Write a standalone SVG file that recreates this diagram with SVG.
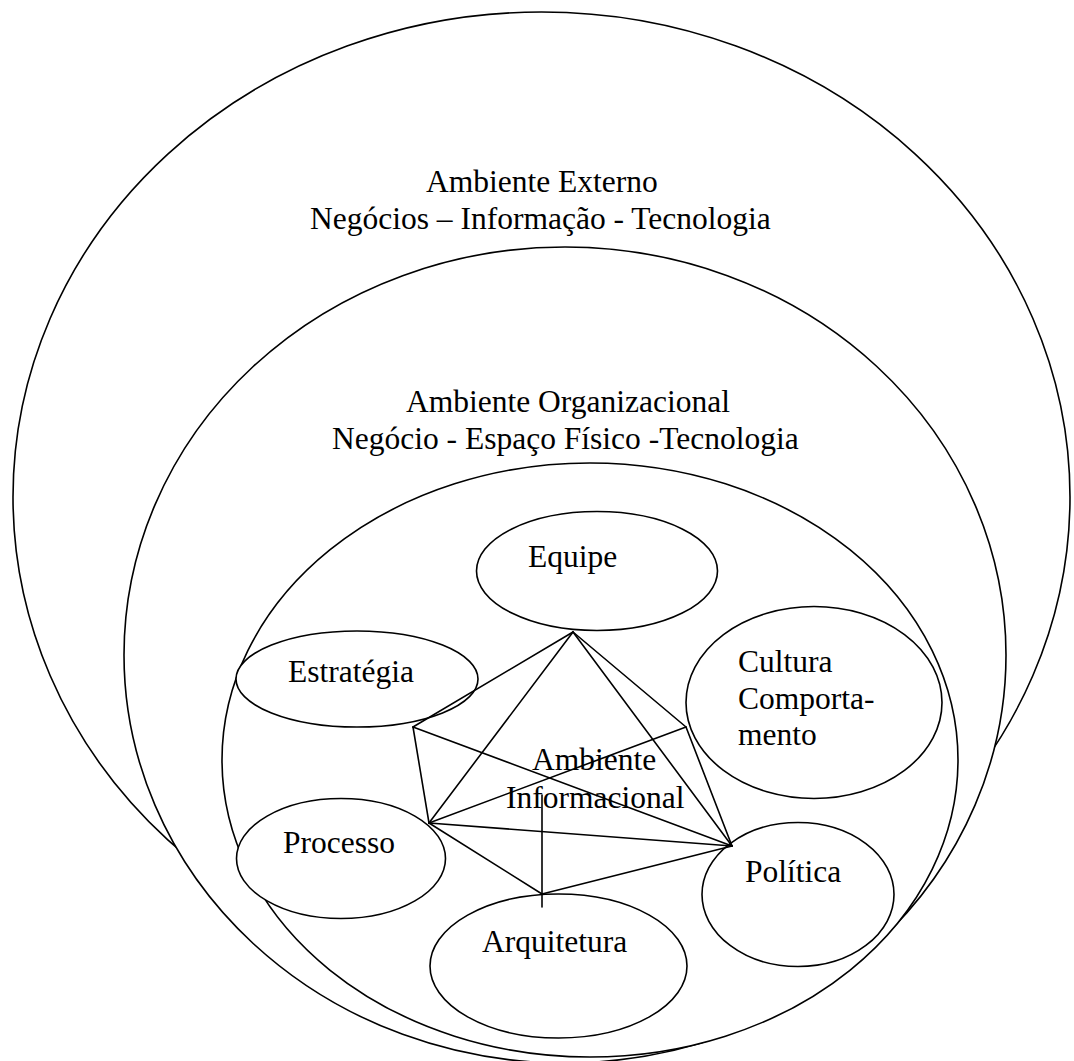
<svg xmlns="http://www.w3.org/2000/svg" width="1074" height="1061" viewBox="0 0 1074 1061">
  <style>
    .ring { fill: #ffffff; stroke: #000000; stroke-width: 1.6; }
    .node ellipse { fill: #ffffff; stroke: #000000; stroke-width: 1.6; }
    .edges line { stroke: #000000; stroke-width: 1.6; stroke-linecap: round; }
    text { font-family: "Liberation Serif", "Times New Roman", serif; font-size: 31.5px; fill: #000000; }
  </style>
  <rect width="1074" height="1061" fill="#ffffff"/>

  <!-- nested environments -->
  <g id="ambiente-externo">
    <ellipse class="ring" cx="541.5" cy="497" rx="528.5" ry="485"/>
    <text x="426" y="192">Ambiente Externo</text>
    <text x="310" y="228.5">Negócios – Informação - Tecnologia</text>
  </g>
  <g id="ambiente-organizacional">
    <ellipse class="ring" cx="565" cy="655" rx="441" ry="408"/>
    <text x="406" y="412">Ambiente Organizacional</text>
    <text x="332" y="448.5">Negócio - Espaço Físico -Tecnologia</text>
  </g>
  <g id="ambiente-informacional">
    <ellipse class="ring" cx="590" cy="760" rx="368" ry="297"/>
  </g>

  <!-- components of the informational environment -->
  <g id="equipe" class="node">
    <ellipse cx="597" cy="571" rx="120.5" ry="59.5"/>
    <text x="528" y="567">Equipe</text>
  </g>
  <g id="estrategia" class="node">
    <ellipse cx="357" cy="679" rx="121" ry="48"/>
    <text x="288" y="682">Estratégia</text>
  </g>
  <g id="cultura" class="node">
    <ellipse cx="814" cy="702.5" rx="128" ry="96"/>
    <text x="738" y="672">Cultura</text>
    <text x="738" y="708.5">Comporta-</text>
    <text x="738" y="745">mento</text>
  </g>
  <g id="processo" class="node">
    <ellipse cx="341" cy="858.5" rx="104.5" ry="60"/>
    <text x="283" y="853">Processo</text>
  </g>
  <g id="politica" class="node">
    <ellipse cx="798" cy="894.5" rx="96" ry="72"/>
    <text x="745" y="882">Política</text>
  </g>
  <g id="arquitetura" class="node">
    <ellipse cx="558.5" cy="966" rx="128.5" ry="72"/>
    <text x="482" y="952">Arquitetura</text>
  </g>

  <!-- links between components -->
  <g id="connectors" class="edges">
    <line x1="573" y1="632" x2="413" y2="727"/>
    <line x1="573" y1="632" x2="429" y2="823"/>
    <line x1="573" y1="632" x2="732" y2="846"/>
    <line x1="573" y1="632" x2="686" y2="727"/>
    <line x1="413" y1="727" x2="429" y2="823"/>
    <line x1="413" y1="727" x2="732" y2="846"/>
    <line x1="686" y1="727" x2="429" y2="823"/>
    <line x1="686" y1="727" x2="732" y2="846"/>
    <line x1="429" y1="823" x2="732" y2="846"/>
    <line x1="429" y1="823" x2="542" y2="894"/>
    <line x1="542" y1="894" x2="732" y2="846"/>
    <line x1="542" y1="795" x2="542" y2="907"/>
  </g>

  <g id="ambiente-informacional-label">
    <text x="532" y="770">Ambiente</text>
    <text x="506" y="808">Informacional</text>
  </g>
</svg>
